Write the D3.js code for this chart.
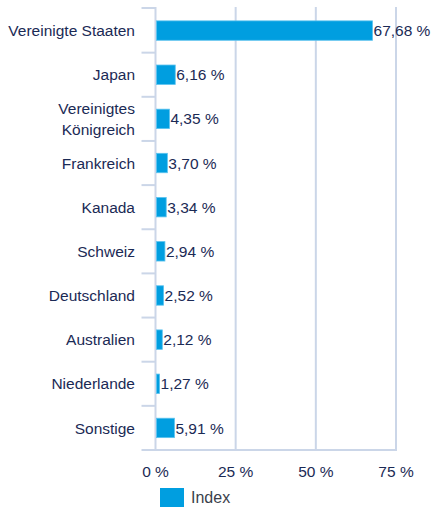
<!DOCTYPE html>
<html>
  <head>
    <meta charset="utf-8">
    <style>
      body, html { margin: 0; padding: 0; background: #fff; }
      svg { font-family: 'Liberation Sans', Arial, sans-serif; }
    </style>
  </head>
  <body>
    <svg id="svg" width="432" height="509"></svg>
    <script src="https://cdn.jsdelivr.net/npm/d3@7"></script>
    <script>
      const countries = [
        'Vereinigte Staaten',
        'Japan',
        'Vereinigtes Königreich',
        'Frankreich',
        'Kanada',
        'Schweiz',
        'Deutschland',
        'Australien',
        'Niederlande',
        'Sonstige',
      ];
      const shares = [67.68, 6.16, 4.35, 3.7, 3.34, 2.94, 2.52, 2.12, 1.27, 5.91];
      const xTicks = [0, 25, 50, 75];
      const seriesName = 'Index';

      const plotLeft = 155.5;
      const plotRight = 396;
      const plotTop = 7;
      const plotBottom = 450;
      const textColor = '#1b2a55';
      const lineColor = '#cbd6e8';
      const barColor = '#009ee0';

      const fmt = (v) => v.toFixed(2).replace('.', ',') + ' %';

      const svg = d3.select('#svg');
      const x = d3.scaleLinear().domain([0, 75]).range([plotLeft, plotRight]);
      const yBand = d3.scaleBand().domain(countries).range([8.5, plotBottom]);
      const barH = yBand.bandwidth() * 0.44;
      const barY = (d) => yBand(d) + (yBand.bandwidth() - barH) / 2;

      // gridlines
      svg.append('g')
        .selectAll('line')
        .data(xTicks)
        .join('line')
        .attr('x1', (d) => x(d))
        .attr('x2', (d) => x(d))
        .attr('y1', plotTop)
        .attr('y2', plotBottom)
        .attr('stroke', lineColor)
        .attr('stroke-width', 2);

      // category tick marks
      svg.append('g')
        .selectAll('line')
        .data(countries)
        .join('line')
        .attr('x1', plotLeft - 14)
        .attr('x2', plotLeft)
        .attr('y1', (d, i) => (i === 0 ? plotTop + 1 : yBand(d)))
        .attr('y2', (d, i) => (i === 0 ? plotTop + 1 : yBand(d)))
        .attr('stroke', lineColor)
        .attr('stroke-width', 2);

      // bottom axis line
      svg.append('line')
        .attr('x1', plotLeft - 14)
        .attr('x2', plotRight + 1)
        .attr('y1', plotBottom)
        .attr('y2', plotBottom)
        .attr('stroke', lineColor)
        .attr('stroke-width', 2);

      // bars
      svg.append('g')
        .selectAll('rect')
        .data(countries)
        .join('rect')
        .attr('x', x(0) + 1)
        .attr('y', barY)
        .attr('width', (d, i) => x(shares[i]) - x(0) - 1)
        .attr('height', barH)
        .attr('fill', barColor)
        .attr('stroke', '#5cc3ef')
        .attr('stroke-width', 0.8);

      // value labels
      svg.append('g')
        .selectAll('text')
        .data(countries)
        .join('text')
        .attr('x', (d, i) => x(shares[i]) + 1)
        .attr('y', (d) => barY(d) + barH / 2)
        .attr('dy', '0.36em')
        .attr('fill', textColor)
        .attr('font-size', 15.5)
        .text((d, i) => fmt(shares[i]));

      // category labels
      const catLabels = svg.append('g')
        .selectAll('text')
        .data(countries)
        .join('text')
        .attr('x', 135)
        .attr('y', (d) => barY(d) + barH / 2)
        .attr('text-anchor', 'end')
        .attr('fill', textColor)
        .attr('font-size', 15.5);
      catLabels.each(function (d) {
        const t = d3.select(this);
        if (d === 'Vereinigtes Königreich') {
          t.append('tspan').attr('x', 135).attr('dy', '-0.34em').text('Vereinigtes');
          t.append('tspan').attr('x', 135).attr('dy', '1.35em').text('Königreich');
        } else {
          t.attr('dy', '0.36em').text(d);
        }
      });

      // x tick labels
      svg.append('g')
        .selectAll('text')
        .data(xTicks)
        .join('text')
        .attr('x', (d) => x(d))
        .attr('y', 477)
        .attr('text-anchor', 'middle')
        .attr('fill', textColor)
        .attr('font-size', 15.5)
        .text((d) => d + ' %');

      // legend
      svg.append('rect')
        .attr('x', 160)
        .attr('y', 488)
        .attr('width', 24)
        .attr('height', 19)
        .attr('fill', barColor);
      svg.append('text')
        .attr('x', 191)
        .attr('y', 503)
        .attr('fill', '#3a3f4c')
        .attr('font-size', 16)
        .text(seriesName);
    </script>
  </body>
</html>
